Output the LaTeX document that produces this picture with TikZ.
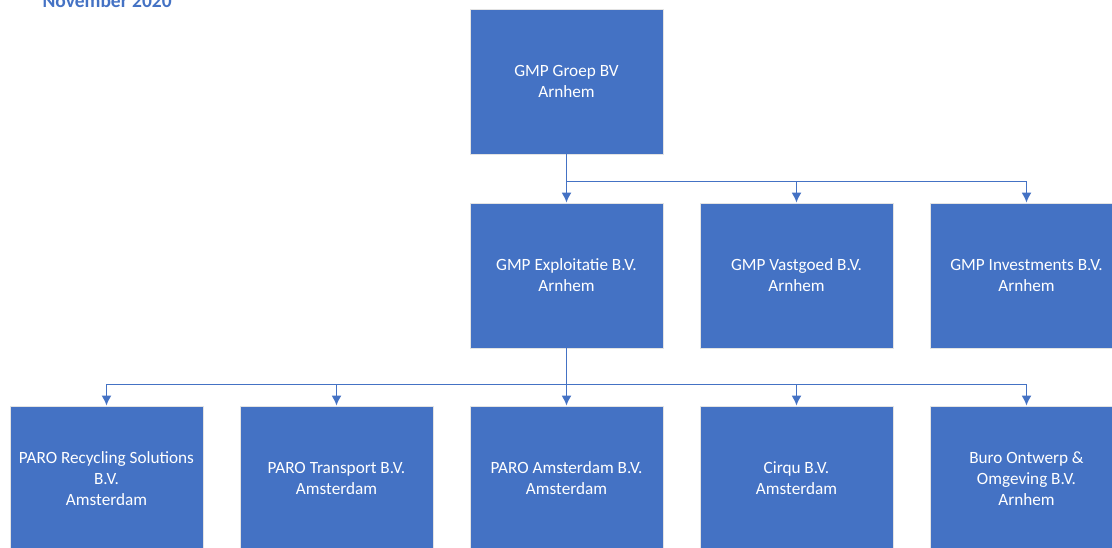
\documentclass[tikz,border=0pt]{standalone}
\usepackage{fontspec}
\setmainfont{Carlito}
\definecolor{gmpblue}{HTML}{4472C4}

\tikzset{
  unit/.style={draw=white!78!gray, line width=0.8pt, fill=gmpblue, text=white,
    minimum width=193pt, minimum height=145pt, align=center, inner sep=2pt,
    font=\fontsize{17.2}{21}\selectfont},
  link/.style={draw=gmpblue, line width=1.5pt, -{Latex[length=10pt,width=10pt]}}
}
\usetikzlibrary{arrows.meta}

\begin{document}
\begin{tikzpicture}[x=1pt,y=-1pt]
\useasboundingbox (0,0) rectangle (1112,547);
\clip (0,0) rectangle (1112,547);
\node[anchor=base west, text=gmpblue, font=\fontsize{19.5}{22}\selectfont\bfseries] (date) at (39,7) {November 2020};

% holding
\node[unit] (groep) at (566.5,81.5) {GMP Groep BV\\Arnhem};

% tweede laag
\node[unit] (exploit) at (566.5,275.5) {GMP Exploitatie B.V.\\Arnhem};
\node[unit] (vast) at (796.5,275.5) {GMP Vastgoed B.V.\\Arnhem};
\node[unit] (invest) at (1026.5,275.5) {GMP Investments B.V.\\Arnhem};

% werkmaatschappijen
\node[unit] (recycling) at (106.5,478.5) {PARO Recycling Solutions\\B.V.\\Amsterdam};
\node[unit] (transport) at (336.5,478.5) {PARO Transport B.V.\\Amsterdam};
\node[unit] (paroams) at (566.5,478.5) {PARO Amsterdam B.V.\\Amsterdam};
\node[unit] (cirqu) at (796.5,478.5) {Cirqu B.V.\\Amsterdam};
\node[unit] (buro) at (1026.5,478.5) {Buro Ontwerp \&\\Omgeving B.V.\\Arnhem};

\foreach \n in {exploit,vast,invest}
\draw[link] (groep.south) -- ++(0,27) -| (\n.north);
\foreach \n in {recycling,transport,paroams,cirqu,buro}
\draw[link] (exploit.south) -- ++(0,36) -| (\n.north);
\end{tikzpicture}
\end{document}
